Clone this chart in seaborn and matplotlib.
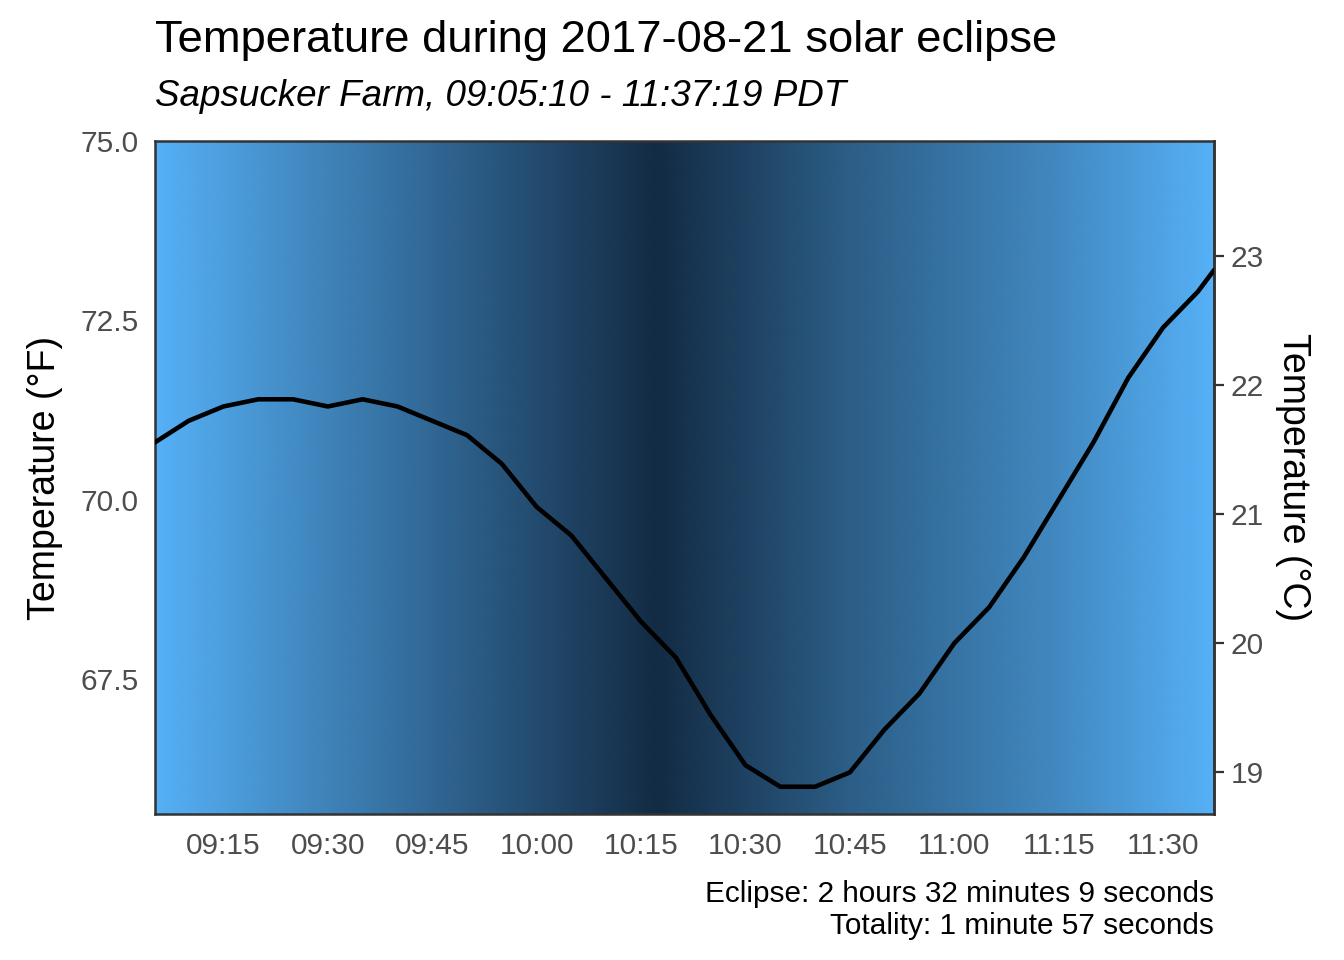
import numpy as np
import pandas as pd
import matplotlib
matplotlib.use("Agg")
import matplotlib.pyplot as plt
import matplotlib.dates as mdates
from matplotlib.colors import LinearSegmentedColormap
import seaborn as sns

# ---- data ----
times = ["09:05:10", "09:10", "09:15", "09:20", "09:25", "09:30", "09:35", "09:40",
         "09:45", "09:50", "09:55", "10:00", "10:05", "10:10", "10:15", "10:20",
         "10:25", "10:30", "10:35", "10:40", "10:45", "10:50", "10:55", "11:00",
         "11:05", "11:10", "11:15", "11:20", "11:25", "11:30", "11:35", "11:37:19"]
temp_f = [70.8, 71.1, 71.3, 71.4, 71.4, 71.3, 71.4, 71.3,
          71.1, 70.9, 70.5, 69.9, 69.5, 68.9, 68.3, 67.8,
          67.0, 66.3, 66.0, 66.0, 66.2, 66.8, 67.3, 68.0,
          68.5, 69.2, 70.0, 70.8, 71.7, 72.4, 72.9, 73.2]

# sky darkness (fraction of obscuration) used for the background shading
shade_times = ["09:05:10", "09:45", "10:17:20", "10:45", "11:15", "11:37:19"]
shade_cover = [0.0, 0.55, 1.0, 0.62, 0.30, 0.0]

xtick_labels = ["09:15", "09:30", "09:45", "10:00", "10:15", "10:30", "10:45",
                "11:00", "11:15", "11:30"]
ytick_f = [67.5, 70.0, 72.5, 75.0]
ytick_c = [19, 20, 21, 22, 23]

title = "Temperature during 2017-08-21 solar eclipse"
subtitle = "Sapsucker Farm, 09:05:10 - 11:37:19 PDT"
caption = "Eclipse: 2 hours 32 minutes 9 seconds\nTotality: 1 minute 57 seconds"

# ---- build ----
day = "2017-08-21 "
def to_dt(s):
    return pd.to_datetime(day + (s if s.count(":") == 2 else s + ":00"))

df = pd.DataFrame({"time": [to_dt(t) for t in times], "temp": temp_f})
t0, t1 = to_dt("09:05:10"), to_dt("11:37:19")

sns.set_theme(style="white")
plt.rcParams["font.family"] = ["Liberation Sans", "DejaVu Sans"]

fig = plt.figure(figsize=(13.44, 9.6), dpi=100)
ax = fig.add_axes([155/1344, 1 - 814/960, (1214-155)/1344, (814-141)/960])

ylo, yhi = 65.62, 75.0
cmap = LinearSegmentedColormap.from_list("sky", ["#56B1F7", "#346E9D", "#132B43"])
sx = mdates.date2num([to_dt(t) for t in shade_times])
X, Y = np.meshgrid(sx, [ylo, yhi])
C = np.vstack([shade_cover, shade_cover])
ax.pcolormesh(X, Y, C, shading="gouraud", cmap=cmap, vmin=0, vmax=1,
              rasterized=True, zorder=0)

sns.lineplot(data=df, x="time", y="temp", ax=ax, color="black", linewidth=3.3,
             zorder=3)

ax.set_xlim(t0, t1)
ax.set_ylim(ylo, yhi)
ax.set_xticks([to_dt(t) for t in xtick_labels])
ax.set_xticklabels(xtick_labels)
ax.set_yticks(ytick_f)
ax.set_yticklabels([f"{v:.1f}" for v in ytick_f])

tick_kw = dict(labelsize=21.5, labelcolor="#4D4D4D", color="#333333",
               length=7, width=1.6)
ax.tick_params(axis="both", which="major", direction="out", **tick_kw)
ax.tick_params(axis="x", pad=6)
ax.tick_params(axis="y", pad=5)

for sp in ax.spines.values():
    sp.set_color("#333333")
    sp.set_linewidth(1.8)
    sp.set_visible(True)

ax.set_xlabel("")
ax.set_ylabel("Temperature (°F)", fontsize=27, color="black", labelpad=12)

def f2c(f):
    return (f - 32) * 5 / 9
def c2f(c):
    return c * 9 / 5 + 32

sec = ax.secondary_yaxis("right", functions=(f2c, c2f))
sec.set_yticks(ytick_c)
sec.tick_params(axis="y", direction="out", pad=5, **tick_kw)
sec.spines["right"].set_color("#333333")
sec.spines["right"].set_linewidth(1.8)
sec.set_ylabel("Temperature (°C)", fontsize=27, color="black", rotation=270,
               labelpad=34)

fig.text(155/1344, 1 - 52/960, title, fontsize=32.7, color="black",
         ha="left", va="baseline")
fig.text(155/1344, 1 - 106/960, subtitle, fontsize=26.5, color="black",
         style="italic", ha="left", va="baseline")
fig.text(1214/1344, 1 - 910/960, caption, fontsize=21.4, color="black",
         ha="right", va="center", linespacing=1.22)

fig.savefig("out.png", dpi=100)
